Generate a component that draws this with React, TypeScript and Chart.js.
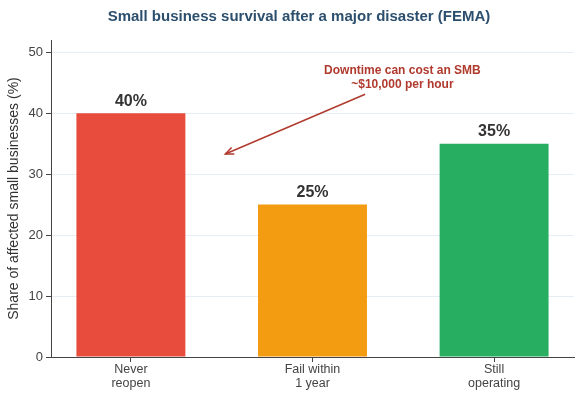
import React, { useEffect, useRef } from "react";
import { Chart, registerables } from "chart.js";

Chart.register(...registerables);

const categories: string[][] = [["Never", "reopen"], ["Fail within", "1 year"], ["Still", "operating"]];
const values: number[] = [40, 25, 35];
const barColors: string[] = ["#e74c3c", "#f39c12", "#27ae60"];
const yTicks: number[] = [0, 10, 20, 30, 40, 50];
const titleText = "Small business survival after a major disaster (FEMA)";
const yTitle = "Share of affected small businesses (%)";
const noteLines: string[] = ["Downtime can cost an SMB", "~$10,000 per hour"];
const noteAt = { x: 1.495, y: 46.9 };
const arrowFrom = { x: 1.29, y: 43.1 };
const arrowTo = { x: 0.52, y: 33.3 };

const FONT = "'Liberation Sans', Arial, sans-serif";

const overlay = {
  id: "overlay",
  afterDatasetsDraw(chart: any) {
    const { ctx, scales } = chart;
    const xs = scales.x, ys = scales.y;
    ctx.save();
    // value labels
    ctx.fillStyle = "#333333";
    ctx.font = `bold 16px ${FONT}`;
    ctx.textAlign = "center";
    ctx.textBaseline = "bottom";
    values.forEach((v, i) => {
      ctx.fillText(`${v}%`, xs.getPixelForValue(i), ys.getPixelForValue(v) - 4);
    });
    // annotation text
    ctx.fillStyle = "#b03a2e";
    ctx.font = `bold 12px ${FONT}`;
    ctx.textBaseline = "middle";
    const nx = xs.getPixelForValue(noteAt.x);
    const ny = ys.getPixelForValue(noteAt.y);
    noteLines.forEach((l, i) => ctx.fillText(l, nx, ny + i * 13.5));
    // arrow
    const x1 = xs.getPixelForValue(arrowFrom.x), y1 = ys.getPixelForValue(arrowFrom.y);
    const x2 = xs.getPixelForValue(arrowTo.x), y2 = ys.getPixelForValue(arrowTo.y);
    ctx.strokeStyle = "#b03a2e";
    ctx.lineWidth = 1.5;
    ctx.beginPath();
    ctx.moveTo(x1, y1);
    ctx.lineTo(x2, y2);
    ctx.stroke();
    const ang = Math.atan2(y2 - y1, x2 - x1);
    const hl = 9, hw = 0.4;
    ctx.beginPath();
    ctx.moveTo(x2 - hl * Math.cos(ang - hw), y2 - hl * Math.sin(ang - hw));
    ctx.lineTo(x2, y2);
    ctx.lineTo(x2 - hl * Math.cos(ang + hw), y2 - hl * Math.sin(ang + hw));
    ctx.stroke();
    // title
    ctx.fillStyle = "#2c4f6e";
    ctx.font = `bold 15px ${FONT}`;
    ctx.textAlign = "center";
    ctx.fillText(titleText, 299, 17);
    ctx.restore();
  },
};

export default function App() {
  const ref = useRef<HTMLCanvasElement>(null);
  useEffect(() => {
    document.body.style.margin = "0";
    const chart = new Chart(ref.current as HTMLCanvasElement, {
      type: "bar",
      data: {
        datasets: [
          {
            data: values.map((v, i) => ({ x: i, y: v })),
            backgroundColor: barColors,
            barPercentage: 0.6,
            categoryPercentage: 1,
          } as any,
        ],
      },
      plugins: [overlay],
      options: {
        animation: false,
        responsive: false,
        layout: { padding: { left: 0, right: 8, top: 40, bottom: 0 } },
        plugins: { legend: { display: false }, tooltip: { enabled: false }, title: { display: false } },
        scales: {
          x: {
            type: "linear",
            min: -0.44,
            max: 2.44,
            offset: false,
            afterBuildTicks: (s: any) => { s.ticks = categories.map((_, i) => ({ value: i })); },
            afterFit: (s: any) => { s.height = 43; },
            ticks: {
              callback: (v: any) => categories[Math.round(v as number)],
              color: "#444444",
              font: { family: FONT, size: 12.5, lineHeight: 1.1 },
              padding: 1,
              maxRotation: 0,
              autoSkip: false,
            },
            grid: { offset: false, drawOnChartArea: false, tickLength: 5, tickColor: "#444444" },
            border: { display: true, color: "#444444", width: 1 },
          },
          y: {
            min: 0,
            max: 52,
            afterBuildTicks: (s: any) => { s.ticks = yTicks.map((v) => ({ value: v })); },
            afterFit: (s: any) => { s.width = 51; },
            ticks: { color: "#444444", font: { family: FONT, size: 13 }, padding: 3 },
            grid: { color: "#e6edf5", lineWidth: 1, tickLength: 5, tickColor: "#444444" },
            border: { display: true, color: "#444444", width: 1 },
            title: {
              display: true,
              text: yTitle,
              color: "#333333",
              font: { family: FONT, size: 14 },
              padding: { top: 6, bottom: 0 },
            },
          },
        },
      } as any,
    });
    return () => chart.destroy();
  }, []);
  return (
    <div style={{ width: 582, height: 400 }}>
      <canvas ref={ref} width={582} height={400} style={{ display: "block" }} />
    </div>
  );
}
